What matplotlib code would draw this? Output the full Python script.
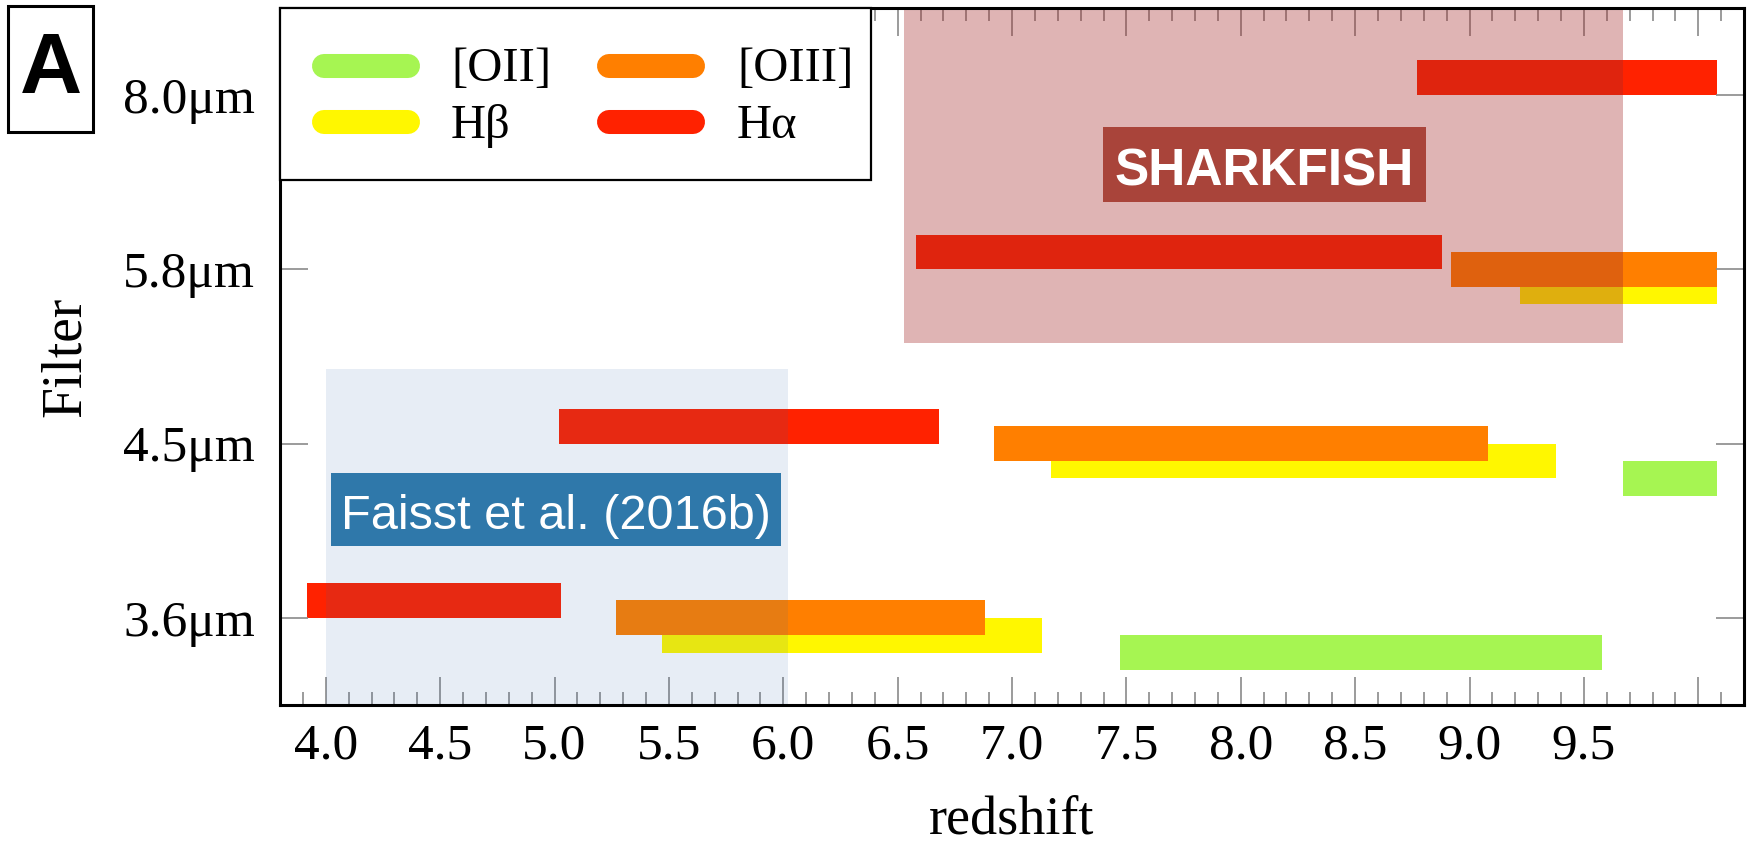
import matplotlib
matplotlib.use('Agg')
import matplotlib.pyplot as plt
from matplotlib.patches import Rectangle
from matplotlib.ticker import FixedLocator, MultipleLocator

# ---------------- data ----------------
filters = ['3.6μm', '4.5μm', '5.8μm', '8.0μm']
line_names = ['[OII]', 'Hβ', '[OIII]', 'Hα']
line_colors = ['#A6F552', '#FFF700', '#FF7F00', '#FF2200']
line_offsets = [-0.2, -0.1, 0.0, 0.1]

# redshift coverage of each emission line: filter index, z_min, z_max
oii_filter = [0, 1]
oii_zmin = [7.47, 9.67]
oii_zmax = [9.58, 10.08]

hb_filter = [0, 1, 2]
hb_zmin = [5.47, 7.17, 9.22]
hb_zmax = [7.13, 9.38, 10.08]

oiii_filter = [0, 1, 2]
oiii_zmin = [5.27, 6.92, 8.92]
oiii_zmax = [6.88, 9.08, 10.08]

ha_filter = [0, 1, 2, 3]
ha_zmin = [3.92, 5.02, 6.58, 8.77]
ha_zmax = [5.03, 6.68, 8.88, 10.08]

series = [(oii_filter, oii_zmin, oii_zmax),
          (hb_filter, hb_zmin, hb_zmax),
          (oiii_filter, oiii_zmin, oiii_zmax),
          (ha_filter, ha_zmin, ha_zmax)]

x_major = [4.0, 4.5, 5.0, 5.5, 6.0, 6.5, 7.0, 7.5, 8.0, 8.5, 9.0, 9.5, 10.0]
x_labels = ['4.0', '4.5', '5.0', '5.5', '6.0', '6.5', '7.0', '7.5', '8.0',
            '8.5', '9.0', '9.5', '']

# survey regions
faisst_z = (4.0, 6.02)
faisst_top = 1.43
shark_z = (6.53, 9.67)
shark_bottom = 1.575

SERIF = 'Liberation Serif'
SANS = 'Liberation Sans'

fig = plt.figure(figsize=(17.5, 8.46), dpi=100)
ax = fig.add_axes([280 / 1750, 1 - 705 / 846, 1464 / 1750, 697 / 846])
ax.set_axisbelow(False)

bar_h = 0.2
for (fidx, zmin, zmax), off, col in zip(series, line_offsets, line_colors):
    ys = [f + off for f in fidx]
    widths = [b - a for a, b in zip(zmin, zmax)]
    ax.barh(ys, widths, left=zmin, height=bar_h, color=col, zorder=2,
            linewidth=0)

ax.set_xlim(3.8, 10.2)
ax.set_ylim(-0.5, 3.5)

# shaded survey regions, drawn over the bars
ax.add_patch(Rectangle((faisst_z[0], -0.5), faisst_z[1] - faisst_z[0],
                       faisst_top + 0.5, facecolor='#2864AA', alpha=0.11,
                       linewidth=0, zorder=3))
ax.add_patch(Rectangle((shark_z[0], shark_bottom), shark_z[1] - shark_z[0],
                       3.5 - shark_bottom, facecolor='#A52A2A', alpha=0.35,
                       linewidth=0, zorder=3))

# labels of the regions
ax.add_patch(Rectangle((4.024, 0.41), 1.966, 0.419, facecolor='#2F78AA',
                       linewidth=0, zorder=4))
ax.text(5.007, 0.51, 'Faisst et al. (2016b)', color='white', fontsize=35,
        family=SANS, ha='center', va='baseline', zorder=5)
ax.add_patch(Rectangle((7.397, 2.385), 1.412, 0.431, facecolor='#A9443A',
                       linewidth=0, zorder=4))
ax.text(8.103, 2.484, 'SHARKFISH', color='white', fontsize=37,
        family=SANS, weight='bold', ha='center', va='baseline', zorder=5)

# ticks
ax.xaxis.set_major_locator(FixedLocator(x_major))
ax.set_xticklabels(x_labels)
ax.xaxis.set_minor_locator(MultipleLocator(0.1))
ax.set_yticks(range(len(filters)))
ax.set_yticklabels(filters)
ax.tick_params(axis='both', which='both', direction='in', top=True,
               right=True, color='#8a8a8a', width=1.2)
ax.tick_params(axis='both', which='major', length=20)
ax.tick_params(axis='x', which='minor', length=9.5)
ax.tick_params(axis='x', which='major', pad=13, labelsize=37)
ax.tick_params(axis='y', which='major', pad=18, labelsize=37)
for lab in ax.get_xticklabels() + ax.get_yticklabels():
    lab.set_family(SERIF)

for sp in ax.spines.values():
    sp.set_linewidth(2.2)
    sp.set_color('black')
    sp.set_zorder(6)

ax.set_xlabel('redshift', fontsize=39, family=SERIF, va='baseline')
ax.xaxis.set_label_coords(0.5, -(833 - 705) / 697)
ax.set_ylabel('Filter', fontsize=40, family=SERIF)
ax.yaxis.set_label_coords((92 - 280) / 1464, 0.5)

# legend (drawn manually to match the original boxed layout)
ax.add_patch(Rectangle((0, 0.7532), 0.4037, 0.2468, transform=ax.transAxes,
                       facecolor='white', edgecolor='black', linewidth=1.6,
                       zorder=7, clip_on=False))
leg_cols_x = [(0.0301, 0.0874, 0.1168), (0.2247, 0.2821, 0.3122)]
leg_rows_y = [0.9168, 0.8364]
for i, (name, col) in enumerate(zip(line_names, line_colors)):
    c, r = divmod(i, 2)
    x0, x1, xt = leg_cols_x[c]
    y = leg_rows_y[r]
    ax.plot([x0, x1], [y, y], transform=ax.transAxes, color=col,
            linewidth=17.3, solid_capstyle='round', zorder=8, clip_on=False)
    ax.text(xt, y - 0.005, name, transform=ax.transAxes, fontsize=35,
            family=SERIF, ha='left', va='center', zorder=8)

# panel letter
fig.patches.append(Rectangle((8 / 1750, 1 - 132 / 846), 85 / 1750, 126 / 846,
                             transform=fig.transFigure, fill=False,
                             edgecolor='black', linewidth=2.2))
fig.text(51 / 1750, 1 - 71 / 846, 'A', fontsize=62, family=SANS,
         weight='bold', ha='center', va='center')

fig.savefig('out.png', dpi=100)
